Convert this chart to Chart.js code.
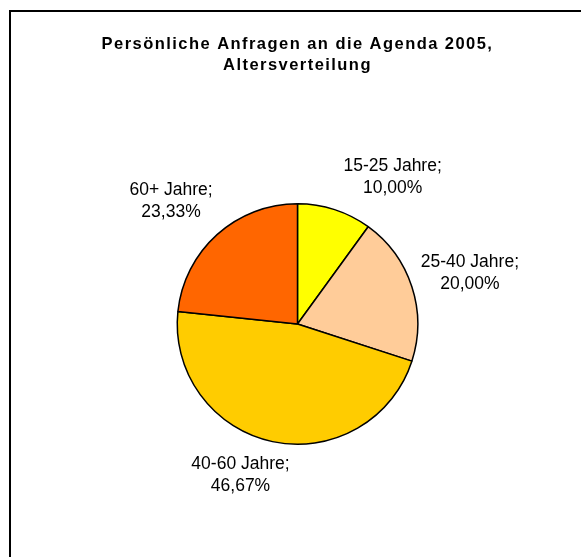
<!DOCTYPE html>
<html>
<head>
<meta charset="utf-8">
<script src="https://cdn.jsdelivr.net/npm/chart.js@4/dist/chart.umd.min.js"></script>
<style>
  html, body { margin: 0; padding: 0; background: #fff; }
  canvas { display: block; }
</style>
</head>
<body>
<canvas id="c" width="581" height="557"></canvas>
<script>
// ---- data ----
const categories = ['15-25 Jahre', '25-40 Jahre', '40-60 Jahre', '60+ Jahre'];
const counts = [3, 6, 14, 7];
const titleLines = ['Persönliche Anfragen an die Agenda 2005,', 'Altersverteilung'];

// ---- styles ----
const sliceColors = ['#FFFF00', '#FFCC99', '#FFCC00', '#FF6600'];
// label offsets from the mid point of each slice's outer edge
const labelOffsets = [[58, -28], [58, -9], [-32, 38], [-46, -29]];

const total = counts.reduce((a, b) => a + b, 0);
const pctText = v => (v / total * 100).toFixed(2).replace('.', ',') + '%';

const framePlugin = {
  id: 'frame',
  beforeDraw(chart) {
    const ctx = chart.ctx;
    ctx.save();
    ctx.fillStyle = '#fff';
    ctx.fillRect(0, 0, chart.width, chart.height);
    ctx.strokeStyle = '#000';
    ctx.lineWidth = 2;
    ctx.beginPath();
    ctx.moveTo(10, chart.height + 2);
    ctx.lineTo(10, 11);
    ctx.lineTo(chart.width + 2, 11);
    ctx.stroke();
    ctx.restore();
    ctx.letterSpacing = '1.45px';
  }
};

const labelPlugin = {
  id: 'sliceLabels',
  afterDatasetsDraw(chart) {
    const ctx = chart.ctx;
    const meta = chart.getDatasetMeta(0);
    ctx.save();
    ctx.letterSpacing = '0px';
    ctx.font = '17.5px "Liberation Sans", Arial, sans-serif';
    ctx.fillStyle = '#000';
    ctx.textAlign = 'center';
    ctx.textBaseline = 'alphabetic';
    meta.data.forEach((arc, i) => {
      const p = arc.getProps(['x', 'y', 'startAngle', 'endAngle', 'outerRadius'], true);
      const a = (p.startAngle + p.endAngle) / 2;
      const ax = p.x + Math.cos(a) * p.outerRadius + labelOffsets[i][0];
      const ay = p.y + Math.sin(a) * p.outerRadius + labelOffsets[i][1];
      ctx.fillText(categories[i] + ';', ax, ay - 11);
      ctx.fillText(pctText(counts[i]), ax, ay + 11);
    });
    ctx.restore();
  }
};

new Chart(document.getElementById('c'), {
  type: 'pie',
  data: {
    labels: categories,
    datasets: [{
      data: counts,
      backgroundColor: sliceColors,
      borderColor: '#000',
      borderWidth: 1.5
    }]
  },
  options: {
    responsive: false,
    animation: false,
    layout: { padding: { left: 14, right: 0, top: 0, bottom: 112 } },
    plugins: {
      legend: { display: false },
      tooltip: { enabled: false },
      title: {
        display: true,
        text: titleLines,
        color: '#000',
        font: { family: '"Liberation Sans", Arial, sans-serif', size: 16.5, weight: 'bold', lineHeight: '21px' },
        padding: { top: 33.5, bottom: 127.5 }
      }
    }
  },
  plugins: [framePlugin, labelPlugin]
});
</script>
</body>
</html>
